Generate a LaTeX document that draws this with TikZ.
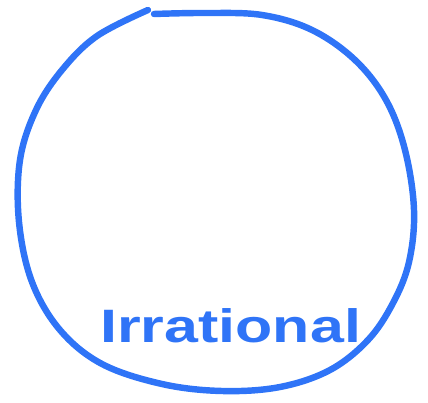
\documentclass[tikz,border=0pt]{standalone}
\usepackage{fontspec}
\setmainfont{Liberation Sans}
\definecolor{penblue}{HTML}{2F74F7}

\begin{document}
\begin{tikzpicture}[x=0.03cm, y=-0.03cm]

    \tikzset{pen/.style={penblue, line width=5.5pt, line cap=round, line join=round}}
    \useasboundingbox (0,0) rectangle (428,403);

    % Set boundary
    \draw[pen] plot[smooth, tension=0.6] coordinates {
        (154,14) (205,13) (262,15) (312,30) (355,60) (386,100)
        (405,150) (414,210) (409,262) (393,303) (368,340) (330,370)
        (280,387) (222,391) (162,384) (102,364) (60,330) (32,282)
        (19,222) (20,160) (36,110) (62,70) (97,36) (148,10)
    };

    % Label
    \node[anchor=base west, inner sep=0pt, text=penblue, xscale=1.3,
          font=\fontsize{40}{44}\selectfont\bfseries] (irr) at (100,342) {Irrational};

\end{tikzpicture}
\end{document}
